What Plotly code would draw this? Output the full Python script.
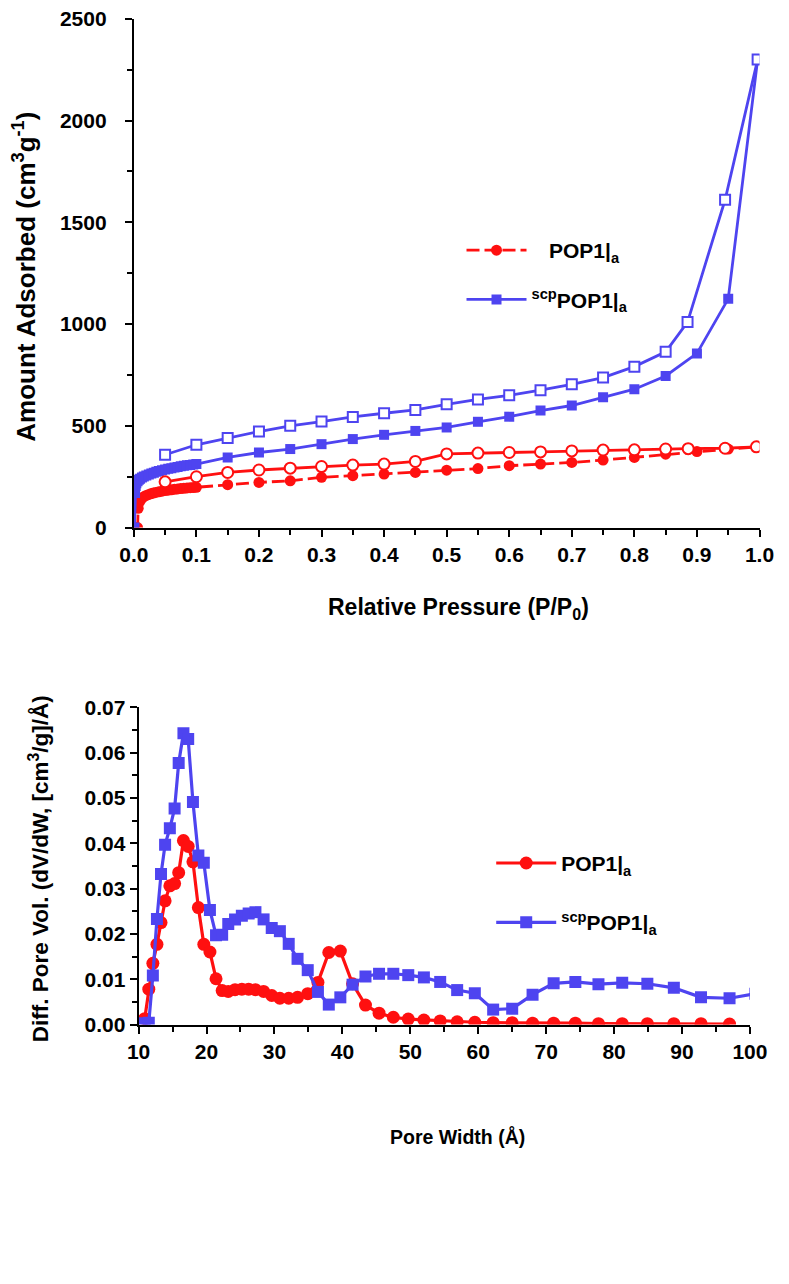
import plotly.graph_objects as go

# ---------------- Top chart: N2 isotherms ----------------
red_ads_P = [0.006, 0.007, 0.009, 0.012, 0.015, 0.019, 0.023, 0.027, 0.031, 0.035, 0.040, 0.045,
             0.050, 0.055, 0.060, 0.065, 0.070, 0.075, 0.080, 0.085, 0.090, 0.095, 0.100,
             0.15, 0.20, 0.25, 0.30, 0.35, 0.40, 0.45, 0.50, 0.55, 0.60, 0.65, 0.70, 0.75,
             0.80, 0.85, 0.90, 0.95, 0.995]
red_ads_V = [0, 95, 125, 140, 150, 157, 162, 166, 170, 173, 176, 179,
             182, 184, 186, 188, 190, 192, 193, 195, 196, 197, 198,
             211, 222, 230, 247, 255, 263, 271, 282, 290, 304, 312, 320, 332,
             345, 361, 374, 386, 397]

red_des_P = [0.995, 0.945, 0.886, 0.85, 0.80, 0.75, 0.70, 0.65, 0.60, 0.55, 0.50, 0.45,
             0.40, 0.35, 0.30, 0.25, 0.20, 0.15, 0.10, 0.05]
red_des_V = [397, 390, 388, 386, 382, 381, 377, 372, 369, 366, 362, 325,
             312, 307, 300, 292, 283, 271, 250, 225]

blue_ads_P = [0.001, 0.002, 0.003, 0.004, 0.006, 0.008, 0.010, 0.013, 0.016, 0.020, 0.024, 0.028,
              0.032, 0.036, 0.040, 0.045, 0.050, 0.055, 0.060, 0.065, 0.070, 0.075, 0.080,
              0.085, 0.090, 0.095, 0.100, 0.15, 0.20, 0.25, 0.30, 0.35, 0.40, 0.45, 0.50,
              0.55, 0.60, 0.65, 0.70, 0.75, 0.80, 0.85, 0.90, 0.95, 0.997]
blue_ads_V = [0, 170, 205, 218, 228, 235, 240, 246, 251, 256, 261, 266,
              270, 274, 278, 282, 286, 289, 292, 295, 298, 301, 304,
              306, 308, 310, 312, 345, 369, 386, 410, 435, 456, 475, 492,
              520, 545, 575, 600, 640, 680, 745, 856, 1124, 2300]

blue_des_P = [0.997, 0.945, 0.885, 0.85, 0.80, 0.75, 0.70, 0.65, 0.60, 0.55, 0.50, 0.45,
              0.40, 0.35, 0.30, 0.25, 0.20, 0.15, 0.10, 0.05]
blue_des_V = [2300, 1611, 1010, 864, 791, 737, 704, 675, 650, 630, 606, 578,
              562, 544, 521, 500, 472, 440, 407, 358]

# ---------------- Bottom chart: pore size distribution ----------------
pore_W = [10.9, 11.5, 12.1, 12.7, 13.3, 13.9, 14.6, 15.3, 15.9, 16.6, 17.3, 18.0, 18.8,
          19.6, 20.5, 21.4, 22.3, 23.2, 24.2, 25.2, 26.2, 27.2, 28.4, 29.6, 30.8, 32.1,
          33.4, 34.9, 36.4, 38.0, 39.7, 41.5, 43.4, 45.4, 47.5, 49.7, 52.0, 54.4, 56.9,
          59.5, 62.2, 65.0, 68.0, 71.1, 74.3, 77.7, 81.2, 84.9, 88.8, 92.8, 97.0, 100.8]
blue_psd = [0.0003, 0.0004, 0.0108, 0.0233, 0.0332, 0.0397, 0.0433, 0.0477, 0.0577, 0.0643,
            0.0630, 0.0491, 0.0373, 0.0357, 0.0253, 0.0197, 0.0198, 0.0222, 0.0232, 0.0240,
            0.0245, 0.0248, 0.0232, 0.0213, 0.0206, 0.0178, 0.0145, 0.0120, 0.0072, 0.0044,
            0.0060, 0.0088, 0.0106, 0.0112, 0.0112, 0.0109, 0.0104, 0.0094, 0.0076, 0.0069,
            0.0033, 0.0035, 0.0066, 0.0091, 0.0094, 0.0089, 0.0092, 0.0090, 0.0081, 0.0060,
            0.0058, 0.0068]
red_W = pore_W[:51]
red_psd = [0.0013, 0.0078, 0.0135, 0.0177, 0.0225, 0.0273, 0.0306, 0.0311, 0.0335, 0.0406,
           0.0393, 0.0359, 0.0258, 0.0177, 0.0160, 0.0101, 0.0075, 0.0073, 0.0077, 0.0078,
           0.0078, 0.0077, 0.0073, 0.0064, 0.0058, 0.0058, 0.0060, 0.0068, 0.0093, 0.0159,
           0.0162, 0.0090, 0.0043, 0.0025, 0.0016, 0.0012, 0.0010, 0.0008, 0.0006, 0.0005,
           0.0004, 0.0004, 0.0003, 0.0003, 0.0003, 0.0002, 0.0002, 0.0002, 0.0002, 0.0002,
           0.0001]

RED = "#FF1010"
BLUE = "#4E44F0"
FONT = "Liberation Sans"
W, H = 789, 1284

name_red_top = "\u00a0\u00a0\u00a0POP1|<sub>a</sub>"
name_red = "POP1|<sub>a</sub>"
name_blue = "<sup>scp</sup>POP1|<sub>a</sub>"

fig = go.Figure()

# top: adsorption (filled)
fig.add_trace(go.Scatter(x=red_ads_P, y=red_ads_V, mode="lines+markers", name=name_red_top,
                         line=dict(color=RED, width=2.8, dash="13px,5px"),
                         marker=dict(symbol="circle", size=11, color=RED),
                         xaxis="x", yaxis="y", legend="legend", legendgroup="r1"))
fig.add_trace(go.Scatter(x=blue_ads_P, y=blue_ads_V, mode="lines+markers", name=name_blue,
                         line=dict(color=BLUE, width=2.8),
                         marker=dict(symbol="square", size=10, color=BLUE),
                         xaxis="x", yaxis="y", legend="legend", legendgroup="b1"))
# top: desorption (open)
fig.add_trace(go.Scatter(x=red_des_P, y=red_des_V, mode="lines+markers", showlegend=False,
                         line=dict(color=RED, width=2.8),
                         marker=dict(symbol="circle", size=11, color="white",
                                     line=dict(color=RED, width=2)),
                         xaxis="x", yaxis="y"))
fig.add_trace(go.Scatter(x=blue_des_P, y=blue_des_V, mode="lines+markers", showlegend=False,
                         line=dict(color=BLUE, width=2.8),
                         marker=dict(symbol="square", size=10, color="white",
                                     line=dict(color=BLUE, width=2)),
                         xaxis="x", yaxis="y"))

# bottom
fig.add_trace(go.Scatter(x=red_W, y=red_psd, mode="lines+markers", name=name_red,
                         line=dict(color=RED, width=3.2),
                         marker=dict(symbol="circle", size=13, color=RED),
                         xaxis="x2", yaxis="y2", legend="legend2", legendgroup="r2"))
fig.add_trace(go.Scatter(x=pore_W, y=blue_psd, mode="lines+markers", name=name_blue,
                         line=dict(color=BLUE, width=3.2),
                         marker=dict(symbol="square", size=12, color=BLUE),
                         xaxis="x2", yaxis="y2", legend="legend2", legendgroup="b2"))

tickfont = dict(family=FONT, size=21, color="black", weight="bold")


def axis_common(dtick, minor_dtick, fmt, standoff):
    return dict(showline=True, linewidth=2, linecolor="black", ticks="outside",
                ticklen=7, tickwidth=2, tickcolor="black", showgrid=False, zeroline=False,
                dtick=dtick, tickformat=fmt, tickfont=tickfont, ticklabelstandoff=standoff,
                ticklabeloverflow="allow",
                minor=dict(ticks="outside", ticklen=5, tickwidth=2, tickcolor="black",
                           dtick=minor_dtick, showgrid=False))


def dom_x(a, b):
    return [a / W, b / W]


def dom_y(top, bottom):
    return [(H - bottom) / H, (H - top) / H]


fig.update_layout(
    width=W, height=H, margin=dict(l=0, r=0, t=0, b=0),
    paper_bgcolor="white", plot_bgcolor="white",
    xaxis=dict(domain=dom_x(124, 777), anchor="y", range=[0, 1.0], tick0=0,
               **axis_common(0.1, 0.05, ".1f", 0)),
    yaxis=dict(domain=dom_y(7, 525), anchor="x", range=[0, 2500], tick0=0,
               **axis_common(500, 250, "d", 14)),
    xaxis2=dict(domain=dom_x(129, 767), anchor="y2", range=[10, 100], tick0=10,
                **axis_common(10, 5, "d", 0)),
    yaxis2=dict(domain=dom_y(708, 1031), anchor="x2", range=[0, 0.07], tick0=0,
                **axis_common(0.01, 0.005, ".2f", 0)),
    legend=dict(x=466 / W, y=(H - 222) / H, xanchor="left", yanchor="top",
                bgcolor="rgba(0,0,0,0)", itemwidth=60, tracegroupgap=19,
                font=dict(family=FONT, size=21, color="black", weight="bold")),
    legend2=dict(x=497 / W, y=(H - 846) / H, xanchor="left", yanchor="top",
                 bgcolor="rgba(0,0,0,0)", itemwidth=60, tracegroupgap=29,
                 font=dict(family=FONT, size=21, color="black", weight="bold")),
    showlegend=True,
)

fig.add_annotation(text="Amount Adsorbed (cm<sup>3</sup>g<sup>-1</sup>)", textangle=-90,
                   x=10 / W, y=(H - 270) / H, xref="paper", yref="paper",
                   xanchor="center", yanchor="middle", showarrow=False,
                   font=dict(family=FONT, size=26, color="black", weight="bold"))
fig.add_annotation(text="Relative Pressure (P/P<sub>0</sub>)",
                   x=463 / W, y=(H - 607) / H, xref="paper", yref="paper",
                   xanchor="center", yanchor="middle", showarrow=False,
                   font=dict(family=FONT, size=23, color="black", weight="bold"))
fig.add_annotation(text="Diff. Pore Vol. (dV/dW, [cm<sup>3</sup>/g]/Å)", textangle=-90,
                   x=25 / W, y=(H - 872) / H, xref="paper", yref="paper",
                   xanchor="center", yanchor="middle", showarrow=False,
                   font=dict(family=FONT, size=22.5, color="black", weight="bold"))
fig.add_annotation(text="Pore Width (Å)",
                   x=462 / W, y=(H - 1145) / H, xref="paper", yref="paper",
                   xanchor="center", yanchor="middle", showarrow=False,
                   font=dict(family=FONT, size=19.5, color="black", weight="bold"))

fig.write_html("out.html", config={"displayModeBar": False},
               post_script="document.body.style.margin='0px';")
